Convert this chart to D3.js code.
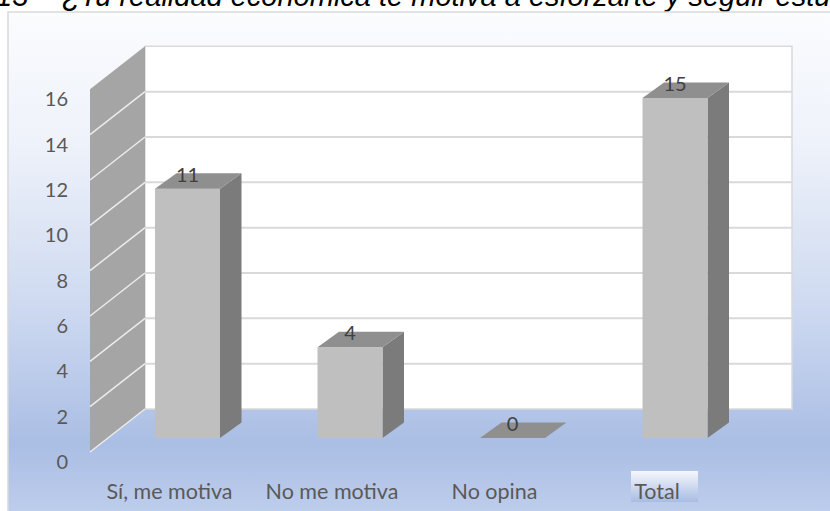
<!DOCTYPE html>
<html>
<head>
<meta charset="utf-8">
<script src="https://cdn.jsdelivr.net/npm/d3@7"></script>
<style>
  html, body { margin: 0; padding: 0; background: #fff; }
  svg { display: block; }
</style>
</head>
<body>
<svg id="chart" width="830" height="511"></svg>
<script>
  // chart values
  var categories = ['Sí, me motiva', 'No me motiva', 'No opina', 'Total'];
  var values = [11, 4, 0, 15];
  var yTicks = [0, 2, 4, 6, 8, 10, 12, 14, 16];
  var titleNumber = '13';
  var titleText = '¿Tu realidad económica te motiva a esforzarte y seguir estudiando?';

  var svg = d3.select('#chart');
  var defs = svg.append('defs');

  var bg = defs.append('linearGradient').attr('id', 'bgGrad')
    .attr('x1', 0).attr('y1', 0).attr('x2', 0).attr('y2', 1);
  bg.append('stop').attr('offset', '0%').attr('stop-color', '#fbfcfe');
  bg.append('stop').attr('offset', '25%').attr('stop-color', '#eef2fa');
  bg.append('stop').attr('offset', '55%').attr('stop-color', '#d0dbf1');
  bg.append('stop').attr('offset', '83%').attr('stop-color', '#aabee4');
  bg.append('stop').attr('offset', '100%').attr('stop-color', '#c3d1ee');

  var lblGrad = defs.append('linearGradient').attr('id', 'lblGrad')
    .attr('x1', 0).attr('y1', 0).attr('x2', 0).attr('y2', 1);
  lblGrad.append('stop').attr('offset', '0%').attr('stop-color', '#f5f7fc');
  lblGrad.append('stop').attr('offset', '45%').attr('stop-color', '#d3dcf1');
  lblGrad.append('stop').attr('offset', '100%').attr('stop-color', '#a8bce3');

  // title, cut off by the top of the page
  var title = svg.append('text')
    .attr('y', 6)
    .style('font-family', '"Liberation Sans", Arial, sans-serif')
    .style('font-style', 'italic')
    .style('font-size', '29px')
    .attr('fill', '#000');
  title.append('tspan').attr('x', -4).text(titleNumber);
  title.append('tspan').attr('x', 62).text(titleText);

  // chart frame
  svg.append('rect')
    .attr('x', 8).attr('y', 12).attr('width', 840).attr('height', 520)
    .attr('fill', 'url(#bgGrad)')
    .attr('stroke', '#d9d9d9').attr('stroke-width', 1.5);

  // scales: front plane of the bars, back wall offset behind it
  var x = d3.scaleBand().domain(categories).range([106.25, 756.25])
    .paddingInner(0.6).paddingOuter(0.3);
  var y = d3.scaleLinear().domain([0, 16]).range([438, 75.3]);
  var backShift = -29;
  var wallLeft = 145, wallRight = 792;
  var wallDx = -55, wallDy = 43;   // side wall depth
  var barDx = 21.5, barDy = -15.5; // bar depth
  var yb = function (v) { return y(v) + backShift; };

  // back wall
  svg.append('rect')
    .attr('x', wallLeft).attr('y', yb(16))
    .attr('width', wallRight - wallLeft).attr('height', yb(0) - yb(16))
    .attr('fill', '#fff').attr('stroke', '#d9d9d9').attr('stroke-width', 1.5);

  svg.append('g').selectAll('line')
    .data(yTicks.filter(function (d) { return d > 0 && d < 16; }))
    .join('line')
    .attr('x1', wallLeft).attr('x2', wallRight)
    .attr('y1', yb).attr('y2', yb)
    .attr('stroke', '#d9d9d9').attr('stroke-width', 2);

  // side wall
  svg.append('polygon')
    .attr('points', [
      [wallLeft, yb(16)], [wallLeft, yb(0)],
      [wallLeft + wallDx, yb(0) + wallDy], [wallLeft + wallDx, yb(16) + wallDy]
    ].join(' '))
    .attr('fill', '#a5a5a5');

  svg.append('g').selectAll('line')
    .data(yTicks.filter(function (d) { return d < 16; }))
    .join('line')
    .attr('x1', wallLeft).attr('x2', wallLeft + wallDx)
    .attr('y1', yb).attr('y2', function (d) { return yb(d) + wallDy; })
    .attr('stroke', '#ececec').attr('stroke-width', 1.5);

  // y tick labels
  svg.append('g').selectAll('text')
    .data(yTicks)
    .join('text')
    .attr('x', 68)
    .attr('y', function (d) { return y(d) + 24; })
    .attr('dy', '0.35em')
    .attr('text-anchor', 'end')
    .style('font-family', 'Lato, sans-serif')
    .style('font-size', '20px')
    .attr('fill', '#595959')
    .text(function (d) { return d; });

  // bars
  var bw = x.bandwidth();
  var bars = svg.append('g').selectAll('g')
    .data(categories.map(function (c, i) { return { cat: c, val: values[i] }; }))
    .join('g');

  bars.filter(function (d) { return d.val > 0; }).append('polygon')
    .attr('points', function (d) {
      var x0 = x(d.cat) + bw, t = y(d.val), b = y(0);
      return [[x0, t], [x0 + barDx, t + barDy], [x0 + barDx, b + barDy], [x0, b]].join(' ');
    })
    .attr('fill', '#7b7b7b');

  bars.filter(function (d) { return d.val > 0; }).append('rect')
    .attr('x', function (d) { return x(d.cat); })
    .attr('y', function (d) { return y(d.val); })
    .attr('width', bw)
    .attr('height', function (d) { return y(0) - y(d.val); })
    .attr('fill', '#bfbfbf');

  bars.append('polygon')
    .attr('points', function (d) {
      var x0 = x(d.cat), t = y(d.val);
      return [[x0, t], [x0 + barDx, t + barDy], [x0 + bw + barDx, t + barDy], [x0 + bw, t]].join(' ');
    })
    .attr('fill', '#8f8f8f');

  // value labels
  bars.append('text')
    .attr('x', function (d) { return x(d.cat) + bw / 2; })
    .attr('y', function (d) { return y(d.val) - 14; })
    .attr('dy', '0.35em')
    .attr('text-anchor', 'middle')
    .style('font-family', 'Lato, sans-serif')
    .style('font-size', '20px')
    .attr('fill', '#404040')
    .text(function (d) { return d.val; });

  // category labels
  var catG = svg.append('g').selectAll('g')
    .data(categories)
    .join('g');

  catG.filter(function (d) { return d === 'Total'; }).append('rect')
    .attr('x', function (d) { return x(d) + bw / 2 - 44; })
    .attr('y', 471).attr('width', 67).attr('height', 31)
    .attr('fill', 'url(#lblGrad)');

  catG.append('text')
    .attr('x', function (d) { return x(d) + bw / 2 - 18; })
    .attr('y', 499)
    .attr('text-anchor', 'middle')
    .style('font-family', 'Lato, sans-serif')
    .style('font-size', '21.5px')
    .attr('fill', '#595959')
    .text(function (d) { return d; });
</script>
</body>
</html>
